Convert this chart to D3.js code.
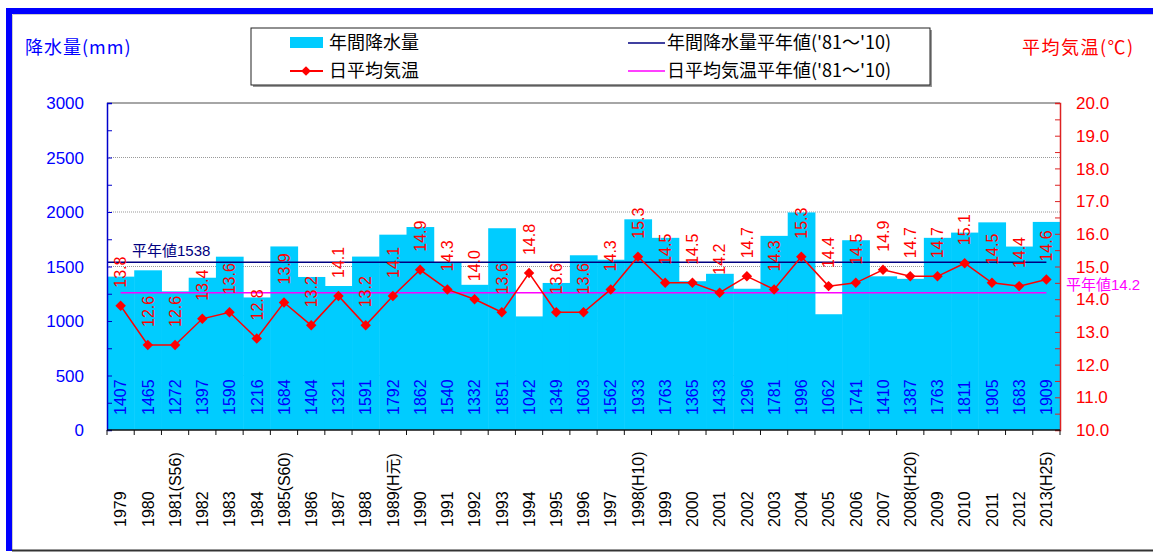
<!DOCTYPE html>
<html>
<head>
<meta charset="utf-8">
<title>年間降水量と日平均気温</title>
<script src="https://cdn.jsdelivr.net/npm/d3@7"></script>
<style>
  body { margin: 0; background: #fff; }
  text { font-family: "Liberation Sans", Arial, "Noto Sans CJK JP", sans-serif; }
  .jp { font-family: "Noto Sans CJK JP", sans-serif; }
</style>
</head>
<body>
<div id="chart"></div>
<script>
// data
const years = ["1979","1980","1981(S56)","1982","1983","1984","1985(S60)","1986","1987","1988",
  "1989(H元)","1990","1991","1992","1993","1994","1995","1996","1997","1998(H10)",
  "1999","2000","2001","2002","2003","2004","2005","2006","2007","2008(H20)",
  "2009","2010","2011","2012","2013(H25)"]
const rain = [1407,1465,1272,1397,1590,1216,1684,1404,1321,1591,1792,1862,1540,1332,1851,1042,1349,1603,1562,1933,
  1763,1365,1433,1296,1781,1996,1062,1741,1410,1387,1763,1811,1905,1683,1909]
const temp = [13.8,12.6,12.6,13.4,13.6,12.8,13.9,13.2,14.1,13.2,14.1,14.9,14.3,14.0,13.6,14.8,13.6,13.6,14.3,15.3,
  14.5,14.5,14.2,14.7,14.3,15.3,14.4,14.5,14.9,14.7,14.7,15.1,14.5,14.4,14.6]
const rainNormal = 1538
const tempNormal = 14.2
const rainTicks = [0,500,1000,1500,2000,2500,3000]
const tempTicks = [10,11,12,13,14,15,16,17,18,19,20]

const W = 1153, H = 552
const pLeft = 107, pRight = 1060, pTop = 103, pBottom = 430

const svg = d3.select("#chart").append("svg")
  .attr("width", W).attr("height", H)

// frame: blue top and left, grey bottom
svg.append("path").attr("d", `M9,551 V11 H${W + 5}`)
  .attr("fill", "none").attr("stroke", "#0000ff").attr("stroke-width", 6)
svg.append("path").attr("d", `M12.5,551 V14.5 H${W + 5}`)
  .attr("fill", "none").attr("stroke", "#ccc").attr("stroke-width", 1)
svg.append("line").attr("x1", 12).attr("x2", W).attr("y1", 550.5).attr("y2", 550.5)
  .attr("stroke", "#333").attr("stroke-width", 2)

// scales
const x = d3.scaleBand().domain(years).range([pLeft, pRight]).padding(0)
const yL = d3.scaleLinear().domain([0, 3000]).range([pBottom, pTop])
const yR = d3.scaleLinear().domain([10, 20]).range([pBottom, pTop])
const cx = d => x(d) + x.bandwidth() / 2

// grid
svg.append("g").selectAll("line").data(rainTicks.filter(v => v > 0 && v < 3000)).join("line")
  .attr("x1", pLeft).attr("x2", pRight).attr("y1", d => yL(d)).attr("y2", d => yL(d))
  .attr("stroke", "#999").attr("stroke-dasharray", "1,1")
svg.append("line").attr("x1", pLeft).attr("x2", pRight).attr("y1", pTop).attr("y2", pTop)
  .attr("stroke", "#888").attr("stroke-width", 1.5)

// bars
svg.append("g").selectAll("rect").data(rain).join("rect")
  .attr("x", (d, i) => x(years[i]))
  .attr("y", d => yL(d))
  .attr("width", x.bandwidth() + 0.5)
  .attr("height", d => pBottom - yL(d))
  .attr("fill", "#00ccff")

// normal lines
svg.append("line").attr("x1", pLeft).attr("x2", cx(years[years.length - 1]))
  .attr("y1", yL(rainNormal)).attr("y2", yL(rainNormal))
  .attr("stroke", "#000080").attr("stroke-width", 1.5)
svg.append("line").attr("x1", cx(years[0])).attr("x2", cx(years[years.length - 1]))
  .attr("y1", yR(tempNormal)).attr("y2", yR(tempNormal))
  .attr("stroke", "#ff00ff").attr("stroke-width", 1.5)

// bar labels
svg.append("g").selectAll("text").data(rain).join("text")
  .attr("transform", (d, i) => `translate(${cx(years[i])},415) rotate(-90)`)
  .attr("dy", "0.36em")
  .attr("font-size", 16).attr("fill", "#0000ff")
  .text(d => d)

// temperature line
const line = d3.line().x((d, i) => cx(years[i])).y(d => yR(d))
svg.append("path").datum(temp).attr("d", line)
  .attr("fill", "none").attr("stroke", "#ff0000").attr("stroke-width", 1.5)
svg.append("g").selectAll("path").data(temp).join("path")
  .attr("d", d3.symbol().type(d3.symbolDiamond2).size(70))
  .attr("transform", (d, i) => `translate(${cx(years[i])},${yR(d)})`)
  .attr("fill", "#ff0000")

// temperature labels
svg.append("g").selectAll("text").data(temp).join("text")
  .attr("transform", (d, i) => `translate(${cx(years[i])},${yR(d) - 18}) rotate(-90)`)
  .attr("dy", "0.36em")
  .attr("font-size", 16).attr("fill", "#ff0000")
  .text(d => d.toFixed(1))

// normal labels
svg.append("text").attr("x", 132).attr("y", 256).attr("font-size", 15).attr("fill", "#000080")
  .html('<tspan class="jp">平年値</tspan>1538')
svg.append("text").attr("x", 1066).attr("y", 290).attr("font-size", 15).attr("fill", "#ff00ff")
  .html('<tspan class="jp">平年値</tspan>14.2')

// left axis
const gL = svg.append("g").attr("transform", `translate(${pLeft},0)`)
  .call(d3.axisLeft(yL).tickValues(d3.range(0, 3001, 250)).tickSize(-5).tickFormat(""))
gL.select(".domain").attr("stroke", "#0000cc").attr("stroke-width", 1.5)
gL.selectAll(".tick line").attr("stroke", "#0000cc")
svg.append("g").selectAll("text").data(rainTicks).join("text")
  .attr("x", 84).attr("y", d => yL(d)).attr("dy", "0.36em")
  .attr("text-anchor", "end").attr("font-size", 17).attr("fill", "#0000ff")
  .text(d => d)

// right axis
const gR = svg.append("g").attr("transform", `translate(${pRight},0)`)
  .call(d3.axisRight(yR).tickValues(d3.range(10, 20.01, 0.5)).tickSize(-5).tickFormat(""))
gR.select(".domain").attr("stroke", "#dd2222").attr("stroke-width", 1.5)
gR.selectAll(".tick line").attr("stroke", "#dd2222")
svg.append("g").selectAll("text").data(tempTicks).join("text")
  .attr("x", 1076).attr("y", d => yR(d)).attr("dy", "0.36em")
  .attr("font-size", 17).attr("fill", "#ff0000")
  .text(d => d.toFixed(1))

// x axis
svg.append("line").attr("x1", pLeft).attr("x2", pRight).attr("y1", pBottom).attr("y2", pBottom)
  .attr("stroke", "#111").attr("stroke-width", 1.5)
svg.append("g").selectAll("line").data(d3.range(years.length + 1)).join("line")
  .attr("x1", i => pLeft + i * x.step()).attr("x2", i => pLeft + i * x.step())
  .attr("y1", pBottom).attr("y2", pBottom + 5).attr("stroke", "#111")
svg.append("g").selectAll("text").data(years).join("text")
  .attr("transform", d => `translate(${cx(d)},527) rotate(-90)`)
  .attr("dy", "0.36em")
  .attr("font-size", 16).attr("fill", "#000")
  .text(d => d)

// axis titles
svg.append("text").attr("class", "jp").attr("x", 25).attr("y", 54)
  .attr("font-size", 18).attr("letter-spacing", 1).attr("fill", "#0000ff").text("降水量(mm)")
svg.append("text").attr("class", "jp").attr("x", 1022).attr("y", 54)
  .attr("font-size", 18).attr("letter-spacing", 1.5).attr("fill", "#ff0000").text("平均気温(℃)")

// legend
const lg = svg.append("g")
lg.append("rect").attr("x", 253).attr("y", 30).attr("width", 679).attr("height", 57).attr("fill", "#999")
lg.append("rect").attr("x", 251).attr("y", 28).attr("width", 679).attr("height", 57)
  .attr("fill", "#fff").attr("stroke", "#222")
lg.append("rect").attr("x", 290).attr("y", 37).attr("width", 33).attr("height", 11).attr("fill", "#00ccff")
lg.append("line").attr("x1", 290).attr("x2", 323).attr("y1", 71).attr("y2", 71)
  .attr("stroke", "#ff0000").attr("stroke-width", 2)
lg.append("path").attr("d", d3.symbol().type(d3.symbolDiamond2).size(60))
  .attr("transform", "translate(306,71)").attr("fill", "#ff0000")
lg.append("line").attr("x1", 628).attr("x2", 665).attr("y1", 43).attr("y2", 43)
  .attr("stroke", "#000080").attr("stroke-width", 1.5)
lg.append("line").attr("x1", 628).attr("x2", 665).attr("y1", 71).attr("y2", 71)
  .attr("stroke", "#ff00ff").attr("stroke-width", 1.5)
const items = [["年間降水量", 329, 49], ["日平均気温", 329, 77],
  ["年間降水量平年値('81～'10)", 667, 49], ["日平均気温平年値('81～'10)", 667, 77]]
lg.selectAll("text.item").data(items).join("text").attr("class", "jp item")
  .attr("x", d => d[1]).attr("y", d => d[2])
  .attr("font-size", 18).attr("fill", "#000").text(d => d[0])
</script>
</body>
</html>
